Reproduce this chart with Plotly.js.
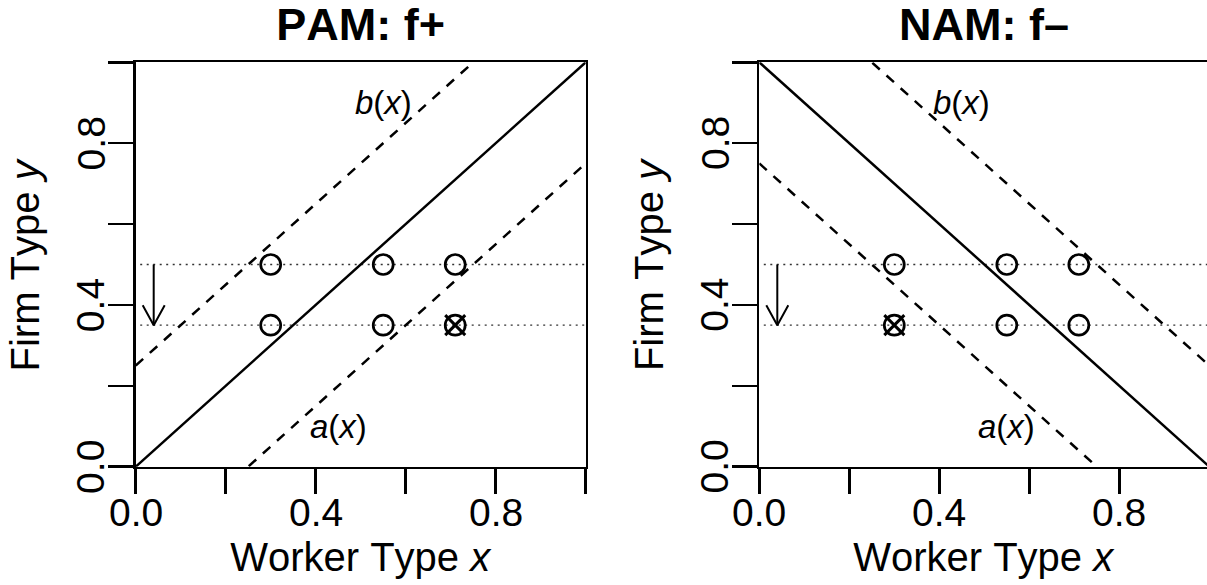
<!DOCTYPE html>
<html>
<head>
<meta charset="utf-8">
<script src="https://cdn.plot.ly/plotly-3.0.1.min.js"></script>
<style>
  html, body { margin: 0; padding: 0; background: #fff; }
  #chart { width: 1207px; height: 585px; }
  .main-svg text { font-kerning: none; }
</style>
</head>
<body>
<div id="chart"></div>
<script>
// ---------------- data ----------------
const panelTitles = ["PAM: f+", "NAM: f\u2013"];
const xTitle = "Worker Type <i>x</i>";
const yTitle = "Firm Type <i>y</i>";
const tickVals = [0, 0.2, 0.4, 0.6, 0.8, 1.0];
const tickText = ["0.0", "", "0.4", "", "0.8", ""];

// worker types (x) and firm types (y) of the points
const workerTypes = [0.3, 0.55, 0.71];
const firmTypes = [0.5, 0.35];
// crossed-out match in each panel
const pamCrossX = [0.71];
const namCrossX = [0.3];
const crossY = [0.35];

// boundary lines (values at x = 0 and x = 1)
const lineX = [0, 1];
const pamDiag = [0, 1];
const pamB = [0.25, 1.25];
const pamA = [-0.25, 0.75];
const namDiag = [1, 0];
const namB = [1.25, 0.25];
const namA = [0.75, -0.25];

// dotted guide lines span and arrow (firm moving down)
const guideX = [0.01, 1];
const arrowX = 0.04;
const arrowFrom = 0.5;
const arrowTo = 0.35;

// labels
const labelText = ["<i>b</i>(<i>x</i>)", "<i>a</i>(<i>x</i>)"];
const pamLabelX = [0.55, 0.45];
const namLabelX = [0.45, 0.55];
const labelY = [0.9, 0.1];

// ---------------- layout geometry ----------------
const W = 1207, H = 585;
const plotTop = 62.3, plotBottom = 466.7;
const leftX0 = 135.7, rightX0 = 759.3, pxPerX = 450;
const pxPerY = plotBottom - plotTop;
const rightMax = (W - rightX0) / pxPerX;
const FONT = "Liberation Sans, Arial, Helvetica, sans-serif";

const ink = "#000";
const traces = [];

function addPanel(xa, ya, diag, bLine, aLine, crossX) {
  const common = {xaxis: xa, yaxis: ya, hoverinfo: "skip", showlegend: false};
  firmTypes.forEach(fy => {
    traces.push(Object.assign({
      x: guideX, y: [fy, fy], mode: "lines",
      line: {color: "#333", width: 1.3, dash: "2px,4.5px"}
    }, common));
  });
  traces.push(Object.assign({x: lineX, y: diag, mode: "lines",
    line: {color: ink, width: 2.5}}, common));
  traces.push(Object.assign({x: lineX, y: bLine, mode: "lines",
    line: {color: ink, width: 2.5, dash: "10px,9px"}}, common));
  traces.push(Object.assign({x: lineX, y: aLine, mode: "lines",
    line: {color: ink, width: 2.5, dash: "10px,9px"}}, common));
  const px = [], py = [];
  firmTypes.forEach(fy => workerTypes.forEach(wx => { px.push(wx); py.push(fy); }));
  traces.push(Object.assign({x: px, y: py, mode: "markers", cliponaxis: false,
    marker: {symbol: "circle-open", size: 20, color: ink, line: {width: 2.7, color: ink}}}, common));
  traces.push(Object.assign({x: crossX, y: crossY, mode: "markers", cliponaxis: false,
    marker: {symbol: "x-thin-open", size: 20, color: ink, line: {width: 3, color: ink}}}, common));
  traces.push(Object.assign({x: [arrowX, arrowX], y: [arrowFrom, arrowTo], mode: "lines",
    line: {color: ink, width: 2}}, common));
  const hx = 11 / pxPerX, hy = 20 / pxPerY;
  traces.push(Object.assign({x: [arrowX - hx, arrowX, arrowX + hx], y: [arrowTo + hy, arrowTo, arrowTo + hy],
    mode: "lines", line: {color: ink, width: 2}}, common));
}

addPanel("x", "y", pamDiag, pamB, pamA, pamCrossX);
addPanel("x2", "y2", namDiag, namB, namA, namCrossX);

const yDomain = [(H - plotBottom) / H, (H - plotTop) / H];

function xAxis(domain, range, anchor) {
  return {
    domain: domain, range: range, anchor: anchor, fixedrange: true,
    showgrid: false, zeroline: false, showline: true, mirror: true,
    linecolor: ink, linewidth: 2.5,
    ticks: "outside", ticklen: 25, tickwidth: 2.5, tickcolor: ink,
    tickmode: "array", tickvals: tickVals, showticklabels: false
  };
}
function yAxis(anchor, mirror) {
  return {
    domain: yDomain, range: [0, 1], anchor: anchor, fixedrange: true,
    showgrid: false, zeroline: false, showline: true, mirror: mirror,
    linecolor: ink, linewidth: 2.5,
    ticks: "outside", ticklen: 25, tickwidth: 2.5, tickcolor: ink,
    tickmode: "array", tickvals: tickVals, showticklabels: false
  };
}

const leftDom = [leftX0 / W, (leftX0 + pxPerX) / W];
const rightDom = [rightX0 / W, 1];

const annotations = [];
const panels = [
  {xa: "x", ya: "y", x0: leftX0, labelX: pamLabelX},
  {xa: "x2", ya: "y2", x0: rightX0, labelX: namLabelX}
];
panels.forEach((p, i) => {
  const cx = (p.x0 + pxPerX / 2) / W;
  annotations.push({xref: "paper", yref: "paper", x: cx, y: 1 - 25 / H,
    xanchor: "center", yanchor: "middle", showarrow: false,
    text: "<b>" + panelTitles[i] + "</b>", font: {family: FONT, size: 45, color: ink}});
  annotations.push({xref: "paper", yref: "paper", x: cx, y: 1 - 557 / H,
    xanchor: "center", yanchor: "middle", showarrow: false,
    text: xTitle, font: {family: FONT, size: 40, color: ink}});
  annotations.push({xref: "paper", yref: "paper", x: (p.x0 - 110.2) / W,
    y: 1 - ((plotTop + plotBottom) / 2) / H,
    xanchor: "center", yanchor: "middle", showarrow: false, textangle: -90,
    text: yTitle, font: {family: FONT, size: 40, color: ink}});
  tickVals.forEach((v, k) => {
    if (!tickText[k]) return;
    annotations.push({xref: p.xa, yref: "paper", x: v, y: 1 - 512.6 / H,
      xanchor: "center", yanchor: "middle", showarrow: false,
      text: tickText[k], font: {family: FONT, size: 39, color: ink}});
    annotations.push({xref: "paper", yref: p.ya, x: (p.x0 - 44.5) / W, y: v,
      xanchor: "center", yanchor: "middle", showarrow: false, textangle: -90,
      text: tickText[k], font: {family: FONT, size: 39, color: ink}});
  });
  labelText.forEach((t, k) => {
    annotations.push({xref: p.xa, yref: p.ya, x: p.labelX[k], y: labelY[k], showarrow: false,
      xanchor: "center", yanchor: "middle", text: t, font: {family: FONT, size: 33, color: ink}});
  });
});

const layout = {
  width: W, height: H,
  margin: {l: 0, r: 0, t: 0, b: 0, pad: 0},
  paper_bgcolor: "#fff", plot_bgcolor: "#fff",
  showlegend: false,
  xaxis: xAxis(leftDom, [0, 1], "y"),
  yaxis: yAxis("x", true),
  xaxis2: xAxis(rightDom, [0, rightMax], "y2"),
  yaxis2: yAxis("x2", false),
  annotations: annotations
};

Plotly.newPlot("chart", traces, layout, {staticPlot: true, displayModeBar: false});
</script>
</body>
</html>
